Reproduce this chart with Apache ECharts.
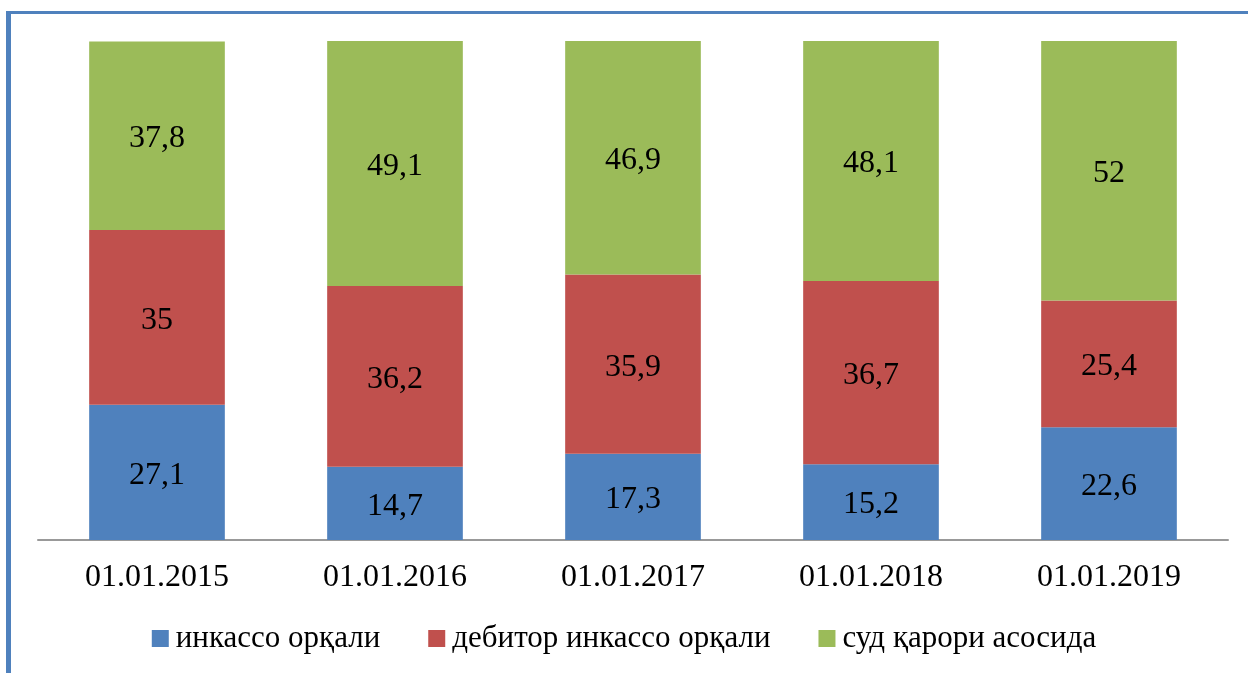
<!DOCTYPE html>
<html>
<head>
<meta charset="utf-8">
<script src="https://cdn.jsdelivr.net/npm/echarts@6/dist/echarts.min.js"></script>
<style>
html,body{margin:0;padding:0;background:#fff;}
#chart{width:1248px;height:673px;}
</style>
</head>
<body>
<div id="chart"></div>
<script>
const categories = ['01.01.2015','01.01.2016','01.01.2017','01.01.2018','01.01.2019'];
const seriesNames = ['инкассо орқали','дебитор инкассо орқали','суд қарори асосида'];
const incasso = [27.1, 14.7, 17.3, 15.2, 22.6];
const debitor = [35, 36.2, 35.9, 36.7, 25.4];
const court = [37.8, 49.1, 46.9, 48.1, 52];
const colors = ['#4F81BD','#C0504D','#9BBB59'];

const chart = echarts.init(document.getElementById('chart'));
const font = '"Liberation Serif", "Times New Roman", serif';
function mk(name, data, color){
  return {
    name: name, type: 'bar', stack: 'total', data: data,
    barWidth: '57%',
    itemStyle: {color: color},
    label: {
      show: true, position: 'inside', color: '#000',
      fontFamily: font, fontSize: 32, offset: [0, 3],
      formatter: p => String(p.value).replace('.', ',')
    }
  };
}
chart.setOption({
  animation: false,
  backgroundColor: '#fff',
  grid: {left: 38, right: 20, top: 41, bottom: 133, containLabel: false},
  xAxis: {
    type: 'category', data: categories,
    axisLine: {show: true, lineStyle: {color: '#999', width: 2}},
    axisTick: {show: false},
    axisLabel: {color: '#000', fontFamily: font, fontSize: 32, margin: 22}
  },
  yAxis: {type: 'value', min: 0, max: 100, show: false, splitLine: {show: false}},
  legend: {
    bottom: 14, left: 'center',
    itemWidth: 17, itemHeight: 17, itemGap: 48,
    icon: 'rect',
    textStyle: {color: '#000', fontFamily: font, fontSize: 31, padding: [0,0,0,2]},
    data: seriesNames
  },
  series: [
    mk(seriesNames[0], incasso, colors[0]),
    mk(seriesNames[1], debitor, colors[1]),
    mk(seriesNames[2], court, colors[2])
  ],
  graphic: [
    {type: 'rect', shape: {x: 6, y: 11, width: 1242, height: 3}, style: {fill: '#4F81BD'}, silent: true},
    {type: 'rect', shape: {x: 6, y: 11, width: 5, height: 662}, style: {fill: '#4F81BD'}, silent: true}
  ]
});
</script>
</body>
</html>
